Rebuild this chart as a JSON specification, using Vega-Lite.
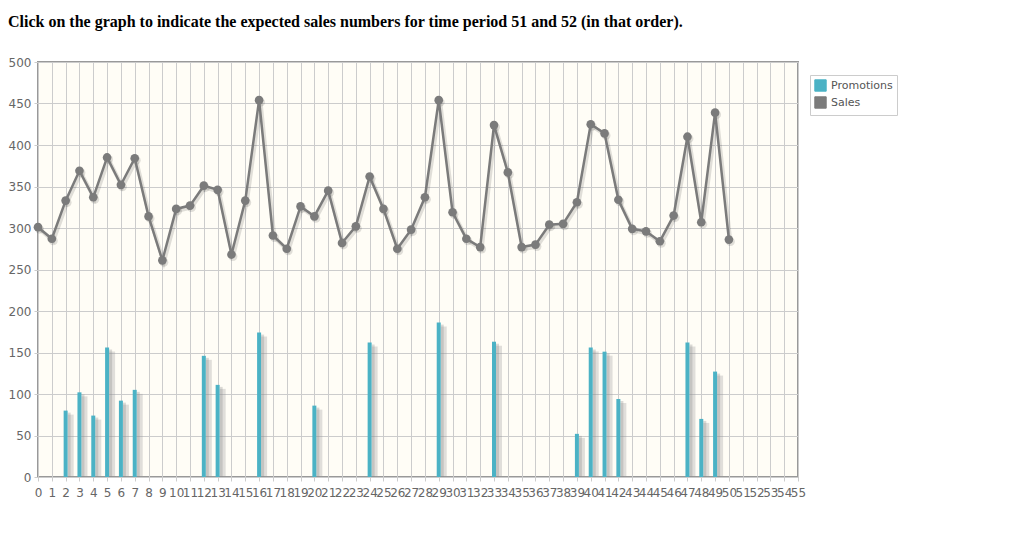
{
  "$schema": "https://vega.github.io/schema/vega-lite/v6.json",
  "width": 760,
  "height": 415,
  "autosize": {"type": "none"},
  "padding": {"left": 38, "top": 62, "right": 222, "bottom": 66},
  "background": "white",
  "title": {
    "text": "Click on the graph to indicate the expected sales numbers for time period 51 and 52 (in that order).",
    "anchor": "start",
    "frame": "group",
    "dx": -30,
    "offset": 26,
    "font": "Liberation Serif",
    "fontSize": 16,
    "fontWeight": "bold",
    "color": "#000"
  },
  "config": {
    "view": {"fill": "#fffdf6", "stroke": "#999", "strokeWidth": 2},
    "axis": {
      "labelFont": "DejaVu Sans",
      "labelFontSize": 12,
      "labelColor": "#666",
      "gridColor": "#ccc",
      "gridOpacity": 1,
      "domain": false,
      "title": null
    }
  },
  "datasets": {
    "rows": [
      {"period": 0, "series": "Sales", "value": 301},
      {"period": 1, "series": "Sales", "value": 287},
      {"period": 2, "series": "Sales", "value": 333},
      {"period": 3, "series": "Sales", "value": 369},
      {"period": 4, "series": "Sales", "value": 337},
      {"period": 5, "series": "Sales", "value": 385},
      {"period": 6, "series": "Sales", "value": 352},
      {"period": 7, "series": "Sales", "value": 384},
      {"period": 8, "series": "Sales", "value": 314},
      {"period": 9, "series": "Sales", "value": 261},
      {"period": 10, "series": "Sales", "value": 323},
      {"period": 11, "series": "Sales", "value": 327},
      {"period": 12, "series": "Sales", "value": 351},
      {"period": 13, "series": "Sales", "value": 346},
      {"period": 14, "series": "Sales", "value": 268},
      {"period": 15, "series": "Sales", "value": 333},
      {"period": 16, "series": "Sales", "value": 454},
      {"period": 17, "series": "Sales", "value": 291},
      {"period": 18, "series": "Sales", "value": 275},
      {"period": 19, "series": "Sales", "value": 326},
      {"period": 20, "series": "Sales", "value": 314},
      {"period": 21, "series": "Sales", "value": 345},
      {"period": 22, "series": "Sales", "value": 282},
      {"period": 23, "series": "Sales", "value": 302},
      {"period": 24, "series": "Sales", "value": 362},
      {"period": 25, "series": "Sales", "value": 323},
      {"period": 26, "series": "Sales", "value": 275},
      {"period": 27, "series": "Sales", "value": 298},
      {"period": 28, "series": "Sales", "value": 337},
      {"period": 29, "series": "Sales", "value": 454},
      {"period": 30, "series": "Sales", "value": 319},
      {"period": 31, "series": "Sales", "value": 287},
      {"period": 32, "series": "Sales", "value": 277},
      {"period": 33, "series": "Sales", "value": 424},
      {"period": 34, "series": "Sales", "value": 367},
      {"period": 35, "series": "Sales", "value": 277},
      {"period": 36, "series": "Sales", "value": 280},
      {"period": 37, "series": "Sales", "value": 304},
      {"period": 38, "series": "Sales", "value": 305},
      {"period": 39, "series": "Sales", "value": 331},
      {"period": 40, "series": "Sales", "value": 425},
      {"period": 41, "series": "Sales", "value": 414},
      {"period": 42, "series": "Sales", "value": 334},
      {"period": 43, "series": "Sales", "value": 299},
      {"period": 44, "series": "Sales", "value": 296},
      {"period": 45, "series": "Sales", "value": 284},
      {"period": 46, "series": "Sales", "value": 315},
      {"period": 47, "series": "Sales", "value": 410},
      {"period": 48, "series": "Sales", "value": 307},
      {"period": 49, "series": "Sales", "value": 439},
      {"period": 50, "series": "Sales", "value": 286},
      {"period": 2, "series": "Promotions", "value": 80},
      {"period": 3, "series": "Promotions", "value": 102},
      {"period": 4, "series": "Promotions", "value": 74},
      {"period": 5, "series": "Promotions", "value": 156},
      {"period": 6, "series": "Promotions", "value": 92},
      {"period": 7, "series": "Promotions", "value": 105},
      {"period": 12, "series": "Promotions", "value": 146},
      {"period": 13, "series": "Promotions", "value": 111},
      {"period": 16, "series": "Promotions", "value": 174},
      {"period": 20, "series": "Promotions", "value": 86},
      {"period": 24, "series": "Promotions", "value": 162},
      {"period": 29, "series": "Promotions", "value": 186},
      {"period": 33, "series": "Promotions", "value": 163},
      {"period": 39, "series": "Promotions", "value": 52},
      {"period": 40, "series": "Promotions", "value": 156},
      {"period": 41, "series": "Promotions", "value": 151},
      {"period": 42, "series": "Promotions", "value": 94},
      {"period": 47, "series": "Promotions", "value": 162},
      {"period": 48, "series": "Promotions", "value": 70},
      {"period": 49, "series": "Promotions", "value": 127}
    ]
  },
  "data": {"name": "rows"},
  "encoding": {
    "x": {
      "field": "period",
      "type": "quantitative",
      "scale": {"domain": [0, 55], "nice": false, "zero": false, "padding": 0},
      "axis": {
        "values": [0,1,2,3,4,5,6,7,8,9,10,11,12,13,14,15,16,17,18,19,20,21,22,23,24,25,26,27,28,29,30,31,32,33,34,35,36,37,38,39,40,41,42,43,44,45,46,47,48,49,50,51,52,53,54,55],
        "labelOverlap": false,
        "labelFlush": false,
        "labelBound": false,
        "tickSize": 4,
        "tickColor": "#ccc",
        "labelPadding": 6
      }
    },
    "y": {
      "field": "value",
      "type": "quantitative",
      "scale": {"domain": [0, 500], "nice": false, "padding": 0},
      "axis": {
        "values": [0, 50, 100, 150, 200, 250, 300, 350, 400, 450, 500],
        "ticks": true,
        "tickSize": 4,
        "tickColor": "#ccc",
        "labelPadding": 3
      }
    }
  },
  "layer": [
    {
      "transform": [{"filter": "datum.series == 'Promotions'"}],
      "mark": {"type": "bar", "orient": "vertical", "size": 6, "xOffset": 5, "yOffset": 4, "color": "#999", "opacity": 0.3, "clip": true}
    },
    {
      "transform": [{"filter": "datum.series == 'Promotions'"}],
      "mark": {"type": "bar", "orient": "vertical", "size": 3, "xOffset": 3.5, "yOffset": 2, "color": "#888", "opacity": 0.3, "clip": true}
    },
    {
      "transform": [{"filter": "datum.series == 'Promotions'"}],
      "mark": {"type": "bar", "orient": "vertical", "size": 4},
      "encoding": {
        "color": {
          "field": "series",
          "type": "nominal",
          "scale": {"domain": ["Promotions", "Sales"], "range": ["#4bb2c5", "#7b7b7b"]},
          "legend": {
            "title": null,
            "orient": "none",
            "legendX": 772,
            "legendY": 13,
            "padding": 4,
            "strokeColor": "#ccc",
            "fillColor": "#fff",
            "symbolType": "square",
            "symbolSize": 130,
            "symbolStrokeColor": "#ccc",
            "symbolStrokeWidth": 1,
            "labelFont": "DejaVu Sans",
            "labelFontSize": 11,
            "labelColor": "#555",
            "rowPadding": 0
          }
        }
      }
    },
    {
      "transform": [{"filter": "datum.series == 'Sales'"}],
      "mark": {"type": "line", "xOffset": 1.5, "yOffset": 2, "color": "#000", "opacity": 0.12, "strokeWidth": 4}
    },
    {
      "transform": [{"filter": "datum.series == 'Sales'"}],
      "mark": {"type": "point", "filled": true, "xOffset": 1.5, "yOffset": 2, "color": "#000", "opacity": 0.12, "size": 80}
    },
    {
      "transform": [{"filter": "datum.series == 'Sales'"}],
      "mark": {"type": "line", "strokeWidth": 2.5},
      "encoding": {"color": {"field": "series", "type": "nominal", "legend": null}}
    },
    {
      "transform": [{"filter": "datum.series == 'Sales'"}],
      "mark": {"type": "point", "filled": true, "opacity": 1, "size": 75},
      "encoding": {"color": {"field": "series", "type": "nominal", "legend": null}}
    }
  ]
}
